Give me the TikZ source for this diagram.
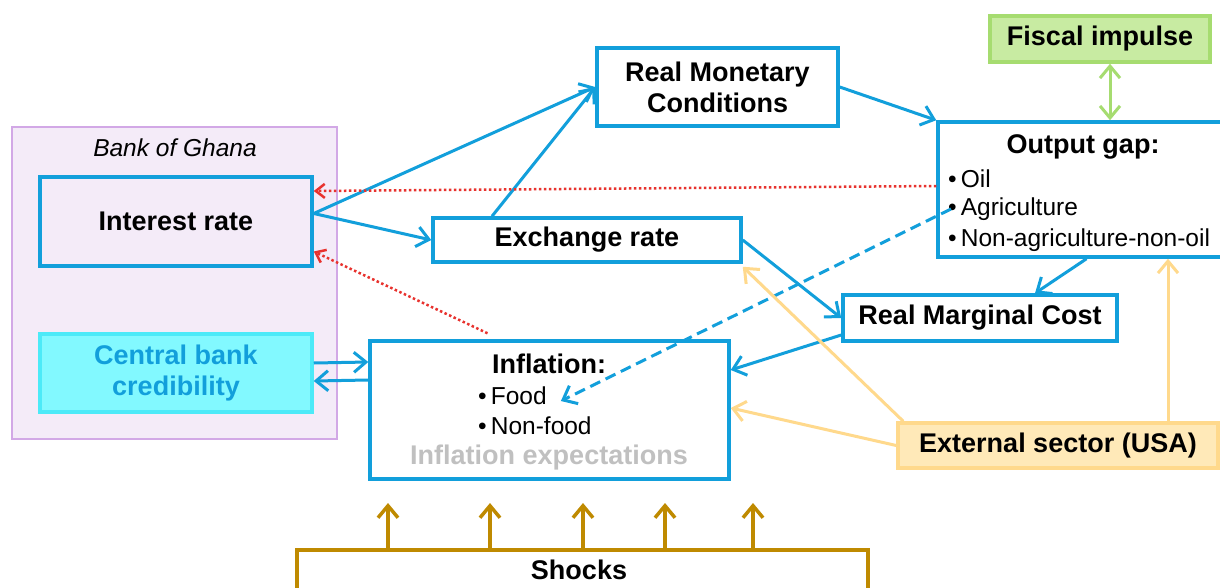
\documentclass[tikz,border=0pt]{standalone}
\usepackage{fontspec}
\setmainfont{Liberation Sans}
\usetikzlibrary{arrows.meta}
\definecolor{mblue}{HTML}{129FDB}
\definecolor{bgfill}{HTML}{F4EBF8}
\definecolor{bgline}{HTML}{D2A8E6}
\definecolor{cbfill}{HTML}{82F9FF}
\definecolor{cbline}{HTML}{4CEAF8}
\definecolor{fifill}{HTML}{C8EBA2}
\definecolor{filine}{HTML}{A6DC70}
\definecolor{exfill}{HTML}{FFE9B8}
\definecolor{exline}{HTML}{FFD98C}
\definecolor{shline}{HTML}{BF8A00}
\definecolor{mred}{HTML}{E8322E}
\definecolor{mgrey}{HTML}{C0C0C0}
\tikzset{
  box/.style      = {shape=rectangle, draw=mblue, line width=3.5pt,
                     inner sep=0pt, align=center,
                     font=\bfseries\fontsize{27}{31}\selectfont},
  credbox/.style  = {box, draw=cbline, fill=cbfill, text=mblue},
  fiscbox/.style  = {box, draw=filine, fill=fifill},
  extbox/.style   = {box, draw=exline, fill=exfill},
  shockbox/.style = {box, draw=shline},
  title/.style    = {inner sep=0pt, font=\bfseries\fontsize{27}{31}\selectfont},
  item/.style     = {inner sep=0pt, anchor=west, font=\fontsize{24.5}{28}\selectfont},
  link/.style     = {draw=mblue, line width=3pt, -{Straight Barb[length=12pt,width=20pt]}},
  feedback/.style = {draw=mred, line width=2.5pt, dash pattern=on 2.5pt off 2.5pt,
                     -{Straight Barb[length=9pt,width=14pt]}},
  extlink/.style  = {draw=exline, line width=3pt, -{Straight Barb[length=12pt,width=20pt]}},
  shocklink/.style= {draw=shline, line width=3.5pt, -{Straight Barb[length=12pt,width=20pt]}}
}

\begin{document}
\begin{tikzpicture}[x=1pt,y=-1pt]
 \fill[white] (0,0) rectangle (1220,587);
 \useasboundingbox (0,0) rectangle (1220,587);

 % Bank of Ghana
 \fill[bgfill] (12,127) rectangle (337,439);
 \draw[bgline, line width=1.2pt] (12,127) rectangle (337,439);
 \node[inner sep=0pt, font=\itshape\fontsize{24.5}{28}\selectfont] (bog) at (175,148) {Bank of Ghana};
 \node[box, minimum width=272pt, minimum height=89pt] (ir) at (176,221.5) {Interest rate};
 \node[credbox, minimum width=272pt, minimum height=78pt] (cbc) at (176,373) {Central bank\\credibility};

 % main boxes
 \node[box, fill=white, minimum width=241pt, minimum height=78pt] (rmc) at (717.5,87) {Real Monetary\\Conditions};
 \node[box, fill=white, minimum width=308pt, minimum height=44pt] (er) at (587,240) {Exchange rate};
 \node[box, fill=white, minimum width=297pt, minimum height=135pt] (og) at (1086.5,189.5) {};
 \node[title] (ogt) at (1083,147) {Output gap:};
 \node[item] (oil) at (948,179) {\textbullet\,Oil};
 \node[item] (agri) at (948,209) {\textbullet\,Agriculture};
 \node[item] (nano) at (948,240) {\textbullet\,Non-agriculture-non-oil};
 \node[fiscbox, minimum width=220pt, minimum height=46pt] (fi) at (1100,39) {Fiscal impulse};
 \node[box, fill=white, minimum width=274pt, minimum height=46pt] (mc) at (980,318) {Real Marginal Cost};
 \node[box, fill=white, minimum width=359pt, minimum height=138pt] (infl) at (549.5,410) {};
 \node[title] (inflt) at (549,364) {Inflation:};
 \node[item] (food) at (478,396) {\textbullet\,Food};
 \node[item] (nfood) at (478,426) {\textbullet\,Non-food};
 \node[title, text=mgrey] (expt) at (549,458) {Inflation expectations};
 \node[extbox, minimum width=320pt, minimum height=45pt] (ext) at (1058,445.5) {External sector (USA)};
 \node[shockbox, minimum width=571pt, minimum height=60pt, anchor=north west] (sh) at (295,548) {};
 \node[title] (sht) at (579,570) {Shocks};

 % transmission
 \draw[link] ([yshift=8pt]ir.east) -- (rmc.west);
 \draw[link] ([yshift=8pt]ir.east) -- (er.west);
 \draw[link] ([xshift=-95pt]er.north) -- (rmc.west);
 \draw[link] (rmc.east) -- (og.north west);
 \draw[link] (og.south) -- ([xshift=55pt]mc.north);
 \draw[link] (er.east) -- (mc.west);
 \draw[link] ([yshift=-17pt]mc.west) -- ([yshift=40pt]infl.east);
 \draw[link] ([yshift=10pt]cbc.east) -- ([yshift=48pt]infl.west);
 \draw[link] ([yshift=30pt]infl.west) -- ([yshift=-8pt]cbc.east);
 \draw[link, dash pattern=on 11pt off 6pt] ([xshift=3pt]agri.west) -- ([xshift=14pt,yshift=-5pt]food.east);

 % policy reaction
 \draw[feedback] ([yshift=3.5pt]og.west) -- ([yshift=30.5pt]ir.east);
 \draw[feedback] ([xshift=-62pt,yshift=6pt]infl.north) -- ([yshift=-30pt]ir.east);

 % fiscal and external
 \draw[draw=filine, line width=3pt, {Straight Barb[length=12pt,width=20pt]}-{Straight Barb[length=12pt,width=20pt]}]
   ([xshift=10pt]fi.south) -- ([xshift=10pt]fi.south |- og.north);
 \draw[extlink] ([xshift=7pt]ext.north west) -- ([yshift=-3pt]er.south east);
 \draw[extlink] (ext.west) -- ([yshift=2pt]infl.east);
 \draw[extlink] ([xshift=110pt]ext.north) -- ([xshift=110pt]ext.north |- og.south);

 % shocks
 \foreach \dx in {93,195,288,370,458}
   \draw[shocklink] ([xshift=\dx pt]sh.north west) -- ++(0,-45);
\end{tikzpicture}
\end{document}
